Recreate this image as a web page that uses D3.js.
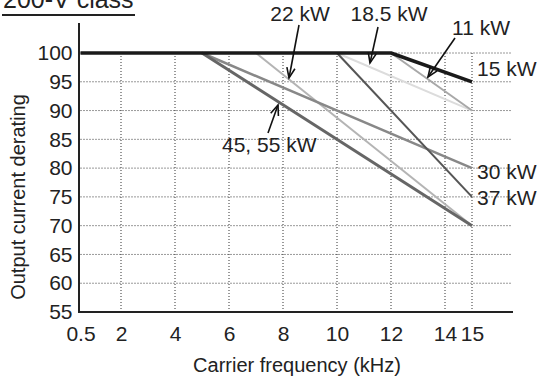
<!DOCTYPE html>
<html>
<head>
<meta charset="utf-8">
<script src="https://cdn.jsdelivr.net/npm/d3@7"></script>
<style>
  html, body { margin: 0; padding: 0; background: #fff; }
  svg { display: block; font-family: "Liberation Sans", Arial, sans-serif; }
</style>
</head>
<body>
<svg id="chart" width="542" height="379"></svg>
<script>
// ---- Data ----
const xTicks = [0.5, 2, 4, 6, 8, 10, 12, 14, 15];
const yTicks = [55, 60, 65, 70, 75, 80, 85, 90, 95, 100];
const seriesNames = ["18.5 kW", "11 kW", "22 kW", "30 kW", "37 kW", "45, 55 kW", "15 kW"];
const seriesFreq = [
  [10, 15],
  [12, 15],
  [7, 15],
  [5, 15],
  [10, 15],
  [5, 15],
  [0.5, 12, 15]
];
const seriesDerating = [
  [100, 90],
  [100, 90],
  [100, 70],
  [100, 80],
  [100, 75],
  [100, 70],
  [100, 100, 95]
];
const seriesColor = ["#dcdcdc", "#a8a8a8", "#b4b4b4", "#888888", "#555555", "#666666", "#1a1a1a"];
const seriesWidth = [2, 2, 2, 2.5, 2, 3, 3.5];

// ---- Layout ----
const svg = d3.select("#chart");
const x = d3.scaleLinear().domain([0.5, 16.5]).range([80.5, 512.5]);
const y = d3.scaleLinear().domain([55, 100]).range([312, 53]);
const fs = 21;

// grid
const grid = svg.append("g").attr("stroke", "#333").attr("stroke-width", 1).attr("stroke-dasharray", "1,2");
grid.selectAll("line.h").data(yTicks.filter(d => d > 55)).join("line")
  .attr("x1", x(0.5)).attr("x2", 511).attr("y1", d => y(d)).attr("y2", d => y(d));
grid.selectAll("line.v").data(xTicks.filter(d => d > 0.5)).join("line")
  .attr("x1", d => x(d)).attr("x2", d => x(d)).attr("y1", y(55)).attr("y2", y(100));

// axes
const xAxis = d3.axisBottom(x).tickValues(xTicks).tickSize(0).tickPadding(14)
  .tickFormat(d => String(d));
const gx = svg.append("g").attr("transform", `translate(0,${y(55)})`).call(xAxis);
gx.select(".domain").remove();
gx.selectAll("text").attr("font-size", fs).attr("fill", "#222").attr("font-family", "Liberation Sans, Arial, sans-serif");

const yAxis = d3.axisLeft(y).tickValues(yTicks).tickSize(0).tickPadding(7);
const gy = svg.append("g").attr("transform", `translate(${x(0.5) - 1},0)`).call(yAxis);
gy.select(".domain").remove();
gy.selectAll("text").attr("font-size", fs).attr("fill", "#222").attr("font-family", "Liberation Sans, Arial, sans-serif");

svg.append("line").attr("x1", x(0.5) - 1.5).attr("x2", x(0.5) - 1.5).attr("y1", 23).attr("y2", y(55) + 1)
  .attr("stroke", "#222").attr("stroke-width", 2);
svg.append("line").attr("x1", x(0.5) - 2.5).attr("x2", 513).attr("y1", y(55)).attr("y2", y(55))
  .attr("stroke", "#222").attr("stroke-width", 2);

// series
const line = d3.line().x(d => x(d[0])).y(d => y(d[1]));
seriesNames.forEach((name, i) => {
  const pts = seriesFreq[i].map((f, j) => [f, seriesDerating[i][j]]);
  svg.append("path").datum(pts).attr("d", line)
    .attr("fill", "none").attr("stroke", seriesColor[i]).attr("stroke-width", seriesWidth[i])
    .attr("stroke-linejoin", "round");
});

// labels
const labels = [
  {t: "22 kW", x: 300, y: 21, a: "middle"},
  {t: "18.5 kW", x: 389, y: 21, a: "middle"},
  {t: "11 kW", x: 481, y: 35, a: "middle"},
  {t: "15 kW", x: 477, y: 76, a: "start"},
  {t: "30 kW", x: 477, y: 179, a: "start"},
  {t: "37 kW", x: 477, y: 205, a: "start"},
  {t: "45, 55 kW", x: 222, y: 152, a: "start"}
];
svg.selectAll("text.lbl").data(labels).join("text").attr("class", "lbl")
  .attr("x", d => d.x).attr("y", d => d.y).attr("text-anchor", d => d.a)
  .attr("font-size", fs).attr("fill", "#222").text(d => d.t);

// arrows (from label to tip)
const arrows = [
  [[299, 25], [289, 78]],
  [[378, 27], [370, 63]],
  [[455, 38], [428, 77]],
  [[268, 133], [278, 105]]
];
const ag = svg.append("g").attr("stroke", "#111").attr("stroke-width", 1.6).attr("fill", "none");
arrows.forEach(([p, q]) => {
  ag.append("line").attr("x1", p[0]).attr("y1", p[1]).attr("x2", q[0]).attr("y2", q[1]);
  const ang = Math.atan2(q[1] - p[1], q[0] - p[0]);
  const L = 11, s = 0.38;
  const a1 = ang + Math.PI - s, a2 = ang + Math.PI + s;
  ag.append("path").attr("d",
    `M${q[0] + L * Math.cos(a1)},${q[1] + L * Math.sin(a1)}L${q[0]},${q[1]}L${q[0] + L * Math.cos(a2)},${q[1] + L * Math.sin(a2)}`);
});

// title
svg.append("text").attr("x", 3).attr("y", 8).attr("font-size", 25).attr("fill", "#222").text("200-V class");
svg.append("line").attr("x1", 2).attr("x2", 135).attr("y1", 15).attr("y2", 15).attr("stroke", "#222").attr("stroke-width", 2);

// axis titles
svg.append("text").attr("x", 297).attr("y", 372).attr("text-anchor", "middle")
  .attr("font-size", 20).attr("fill", "#222").text("Carrier frequency (kHz)");
svg.append("text").attr("transform", "translate(25,197) rotate(-90)").attr("text-anchor", "middle")
  .attr("font-size", 20).attr("fill", "#222").text("Output current derating");
</script>
</body>
</html>
